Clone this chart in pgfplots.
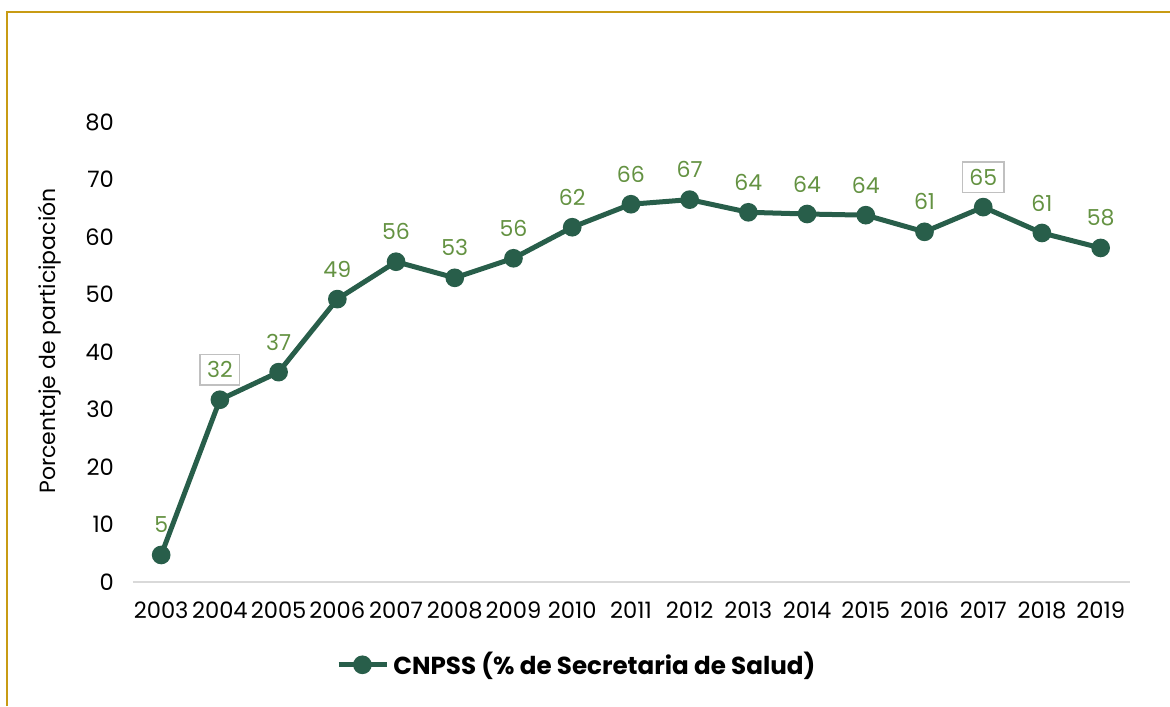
\documentclass[border=0pt]{standalone}
\usepackage{pgfplots}
\pgfplotsset{compat=1.18}
\usepackage{fontspec}
\setmainfont{Poppins}
\definecolor{linegreen}{RGB}{40,94,74}
\definecolor{labgreen}{RGB}{100,146,66}
\definecolor{gold}{RGB}{200,155,20}
\definecolor{boxgray}{RGB}{192,192,192}
\begin{document}
\begin{tikzpicture}
\begin{axis}[
  scale only axis, width=498.5pt, height=230pt,
  at={(0,0)}, anchor=south west,
  xmin=-0.48, xmax=16.5, ymin=0, ymax=80,
  axis x line*=bottom, axis y line*=left,
  y axis line style={draw=none},
  x axis line style={draw=black!15, line width=0.6pt},
  ytick={0,10,...,80},
  xtick={0,...,16},
  xticklabels={2003,2004,2005,2006,2007,2008,2009,2010,2011,2012,2013,2014,2015,2016,2017,2018,2019},
  major tick length=0pt,
  tick label style={font=\fontsize{11.3}{13}\selectfont, black},
  /pgf/number format/assume math mode=true,
  yticklabel style={xshift=-6pt},
  xticklabel style={yshift=-6.5pt},
  every axis y label/.style={at={(axis description cs:-0.0832,0.524)}, rotate=90, anchor=center, font=\fontsize{11}{12}\selectfont},
  ylabel={Porcentaje de participación},
  legend style={at={(axis description cs:0.446,-0.18)}, anchor=center, draw=none, fill=none,
    font=\bfseries\fontsize{12.3}{14}\selectfont, inner sep=0pt},
  legend cell align=left,
  legend image code/.code={\draw[#1, mark repeat=2, mark phase=2] plot coordinates {(0cm,0cm) (0.42cm,0cm) (0.85cm,0cm)};},
  clip=false,
]
\addplot[linegreen, line width=2.5pt, mark=*, mark size=3.4pt, mark options={solid}] coordinates {
(0,4.7) (1,31.7) (2,36.5) (3,49.2) (4,55.7) (5,52.9) (6,56.3) (7,61.7) (8,65.7)
(9,66.5) (10,64.3) (11,64.0) (12,63.8) (13,60.9) (14,65.2) (15,60.7) (16,58.1)
};
\addlegendentry{CNPSS (\% de Secretaria de Salud)}
\addplot[draw=none, mark=none, forget plot, point meta=explicit symbolic, nodes near coords,
  every node near coord/.append style={text=labgreen, anchor=center, yshift=15pt, font=\fontsize{11}{12}\selectfont}]
coordinates {
(0,4.7) [5] (2,36.5) [37] (3,49.2) [49] (4,55.7) [56] (5,52.9) [53] (6,56.3) [56] (7,61.7) [62] (8,65.7) [66]
(9,66.5) [67] (10,64.3) [64] (11,64.0) [64] (12,63.8) [64] (13,60.9) [61] (15,60.7) [61] (16,58.1) [58]
};
\addplot[draw=none, mark=none, forget plot, point meta=explicit symbolic, nodes near coords,
  every node near coord/.append style={text=labgreen, anchor=center, yshift=15pt, font=\fontsize{11}{12}\selectfont,
    draw=boxgray, line width=0.7pt, inner xsep=3.5pt, inner ysep=3.5pt}]
coordinates {
(1,31.7) [32] (14,65.2) [65]
};
\end{axis}
\path[use as bounding box] (-66.5pt,-62pt) rectangle (518.5pt,291pt);
\draw[gold, line width=1pt] (-63pt,-62pt) -- (-63pt,285pt) -- (518.5pt,285pt);
\end{tikzpicture}
\end{document}
